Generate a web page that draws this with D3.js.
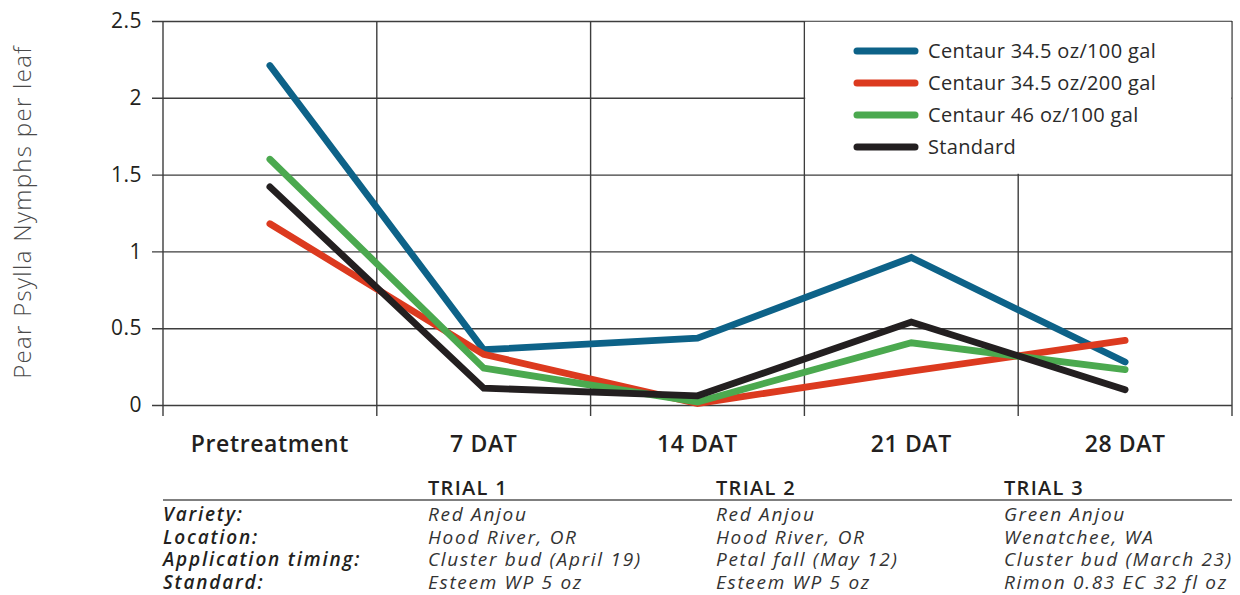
<!DOCTYPE html>
<html>
<head>
<meta charset="utf-8">
<script src="https://cdn.jsdelivr.net/npm/d3@7"></script>
<style>
  html, body { margin: 0; padding: 0; background: #fff; }
  svg { display: block; font-family: "Open Sans", sans-serif; }
</style>
</head>
<body>
<div id="chart"></div>
<script>
// data
const categories = ["Pretreatment", "7 DAT", "14 DAT", "21 DAT", "28 DAT"];
const seriesNames = ["Centaur 34.5 oz/100 gal", "Centaur 34.5 oz/200 gal", "Centaur 46 oz/100 gal", "Standard"];
const seriesColors = ["#0d6288", "#dc3a1f", "#4ba94f", "#231f20"];
const centaur345_100 = [2.21, 0.36, 0.435, 0.96, 0.28];
const centaur345_200 = [1.18, 0.33, 0.01, 0.22, 0.42];
const centaur46_100 = [1.60, 0.24, 0.02, 0.405, 0.23];
const standard = [1.42, 0.11, 0.06, 0.54, 0.10];
const yTicks = [0, 0.5, 1, 1.5, 2, 2.5];
const yTickLabels = ["0", "0.5", "1", "1.5", "2", "2.5"];

const trialHeads = ["TRIAL 1", "TRIAL 2", "TRIAL 3"];
const rowLabels = ["Variety:", "Location:", "Application timing:", "Standard:"];
const trial1 = ["Red Anjou", "Hood River, OR", "Cluster bud (April 19)", "Esteem WP 5 oz"];
const trial2 = ["Red Anjou", "Hood River, OR", "Petal fall (May 12)", "Esteem WP 5 oz"];
const trial3 = ["Green Anjou", "Wenatchee, WA", "Cluster bud (March 23)", "Rimon 0.83 EC 32 fl oz"];

const allSeries = [centaur345_100, centaur345_200, centaur46_100, standard];

const width = 1240, height = 595;
const margin = { left: 163, right: 8, top: 21, bottom: 190 };
const x0 = margin.left, x1 = width - margin.right;
const y0 = height - margin.bottom, y1 = margin.top;

const svg = d3.select("#chart").append("svg")
    .attr("width", width)
    .attr("height", height)
    .attr("viewBox", `0 0 ${width} ${height}`);

const x = d3.scaleBand().domain(categories).range([x0, x1]);
const y = d3.scaleLinear().domain([0, 2.5]).range([y0, y1]);

const gridColor = "#3d3d3d";

// horizontal gridlines + y ticks
svg.append("g")
    .attr("transform", `translate(${x0},0)`)
    .call(d3.axisLeft(y).tickValues(yTicks)
        .tickFormat((d, i) => yTickLabels[i])
        .tickSize(-(x1 - x0)).tickPadding(21))
    .attr("font-family", null)
    .call(g => g.select(".domain").remove())
    .call(g => g.selectAll(".tick line")
        .attr("x1", -11).attr("stroke", gridColor).attr("stroke-width", 1.4))
    .call(g => g.selectAll(".tick text")
        .attr("font-size", 21).attr("fill", "#231f20").attr("font-weight", 500)
        .attr("letter-spacing", 0.5));

// vertical gridlines at band edges
const edges = categories.map(c => x(c)).concat([x1]);
svg.append("g").selectAll("line")
    .data(edges)
    .enter().append("line")
    .attr("x1", d => d).attr("x2", d => d)
    .attr("y1", y1).attr("y2", y0 + 11)
    .attr("stroke", gridColor)
    .attr("stroke-width", 1.4);

// category labels
svg.append("g")
    .attr("transform", `translate(0,${y0})`)
    .call(d3.axisBottom(x).tickSize(0).tickPadding(0))
    .attr("font-family", null)
    .call(g => g.select(".domain").remove())
    .call(g => g.selectAll(".tick text")
        .attr("dy", null).attr("y", 47)
        .attr("font-size", 23).attr("font-weight", 600).attr("fill", "#231f20")
        .attr("letter-spacing", 0.6));

// legend box (white cell over the grid, borders are gridlines)
const lgX = x(categories[3]), lgY = y(2.5), lgW = x1 - lgX, lgH = y(1.5) - y(2.5);
svg.append("rect")
    .attr("x", lgX + 0.8).attr("y", lgY + 0.8)
    .attr("width", lgW - 1.6).attr("height", lgH - 1.6)
    .attr("fill", "#fff");

// lines
const line = d3.line()
    .x((d, i) => x(categories[i]) + x.bandwidth() / 2)
    .y(d => y(d));

svg.append("g").selectAll("path")
    .data(allSeries)
    .enter().append("path")
    .attr("d", line)
    .attr("fill", "none")
    .attr("stroke", (d, i) => seriesColors[i])
    .attr("stroke-width", 6.8)
    .attr("stroke-linecap", "round")
    .attr("stroke-linejoin", "miter");

const legend = svg.append("g")
    .selectAll("g")
    .data(seriesNames)
    .enter().append("g")
    .attr("transform", (d, i) => `translate(857,${51 + i * 32})`);
legend.append("line")
    .attr("x1", 0).attr("x2", 58)
    .attr("stroke", (d, i) => seriesColors[i])
    .attr("stroke-width", 7)
    .attr("stroke-linecap", "round");
legend.append("text")
    .attr("x", 71).attr("dy", "0.36em")
    .attr("font-size", 20)
    .attr("letter-spacing", 0.35)
    .attr("fill", "#2a2a2a")
    .text(d => d);

// y axis title
svg.append("text")
    .attr("transform", `translate(31,212) rotate(-90)`)
    .attr("text-anchor", "middle")
    .attr("font-size", 24)
    .attr("font-weight", 300)
    .attr("letter-spacing", 1.3)
    .attr("fill", "#4a4a4a")
    .text("Pear Psylla Nymphs per leaf");

// trial table
const colX = [428, 716, 1004];
const table = svg.append("g");
table.selectAll(".head")
    .data(trialHeads)
    .enter().append("text")
    .attr("x", (d, i) => colX[i]).attr("y", 494.5)
    .attr("font-size", 20).attr("font-weight", 600).attr("fill", "#231f20")
    .attr("letter-spacing", 1.3)
    .text(d => d);
table.append("line")
    .attr("x1", x0).attr("x2", x1)
    .attr("y1", 500).attr("y2", 500)
    .attr("stroke", "#555").attr("stroke-width", 1.4);

const rowY = [521, 543.7, 566.3, 589];
table.selectAll(".rl")
    .data(rowLabels)
    .enter().append("text")
    .attr("x", x0).attr("y", (d, i) => rowY[i])
    .attr("font-size", 19).attr("font-style", "italic").attr("font-weight", 600)
    .attr("letter-spacing", 1.8)
    .attr("fill", "#231f20")
    .text(d => d);

[trial1, trial2, trial3].forEach((col, j) => {
    table.append("g").selectAll("text")
        .data(col)
        .enter().append("text")
        .attr("x", colX[j]).attr("y", (d, i) => rowY[i])
        .attr("font-size", 19).attr("font-style", "italic")
        .attr("letter-spacing", 1.7)
        .attr("fill", "#333")
        .text(d => d);
});
</script>
</body>
</html>
